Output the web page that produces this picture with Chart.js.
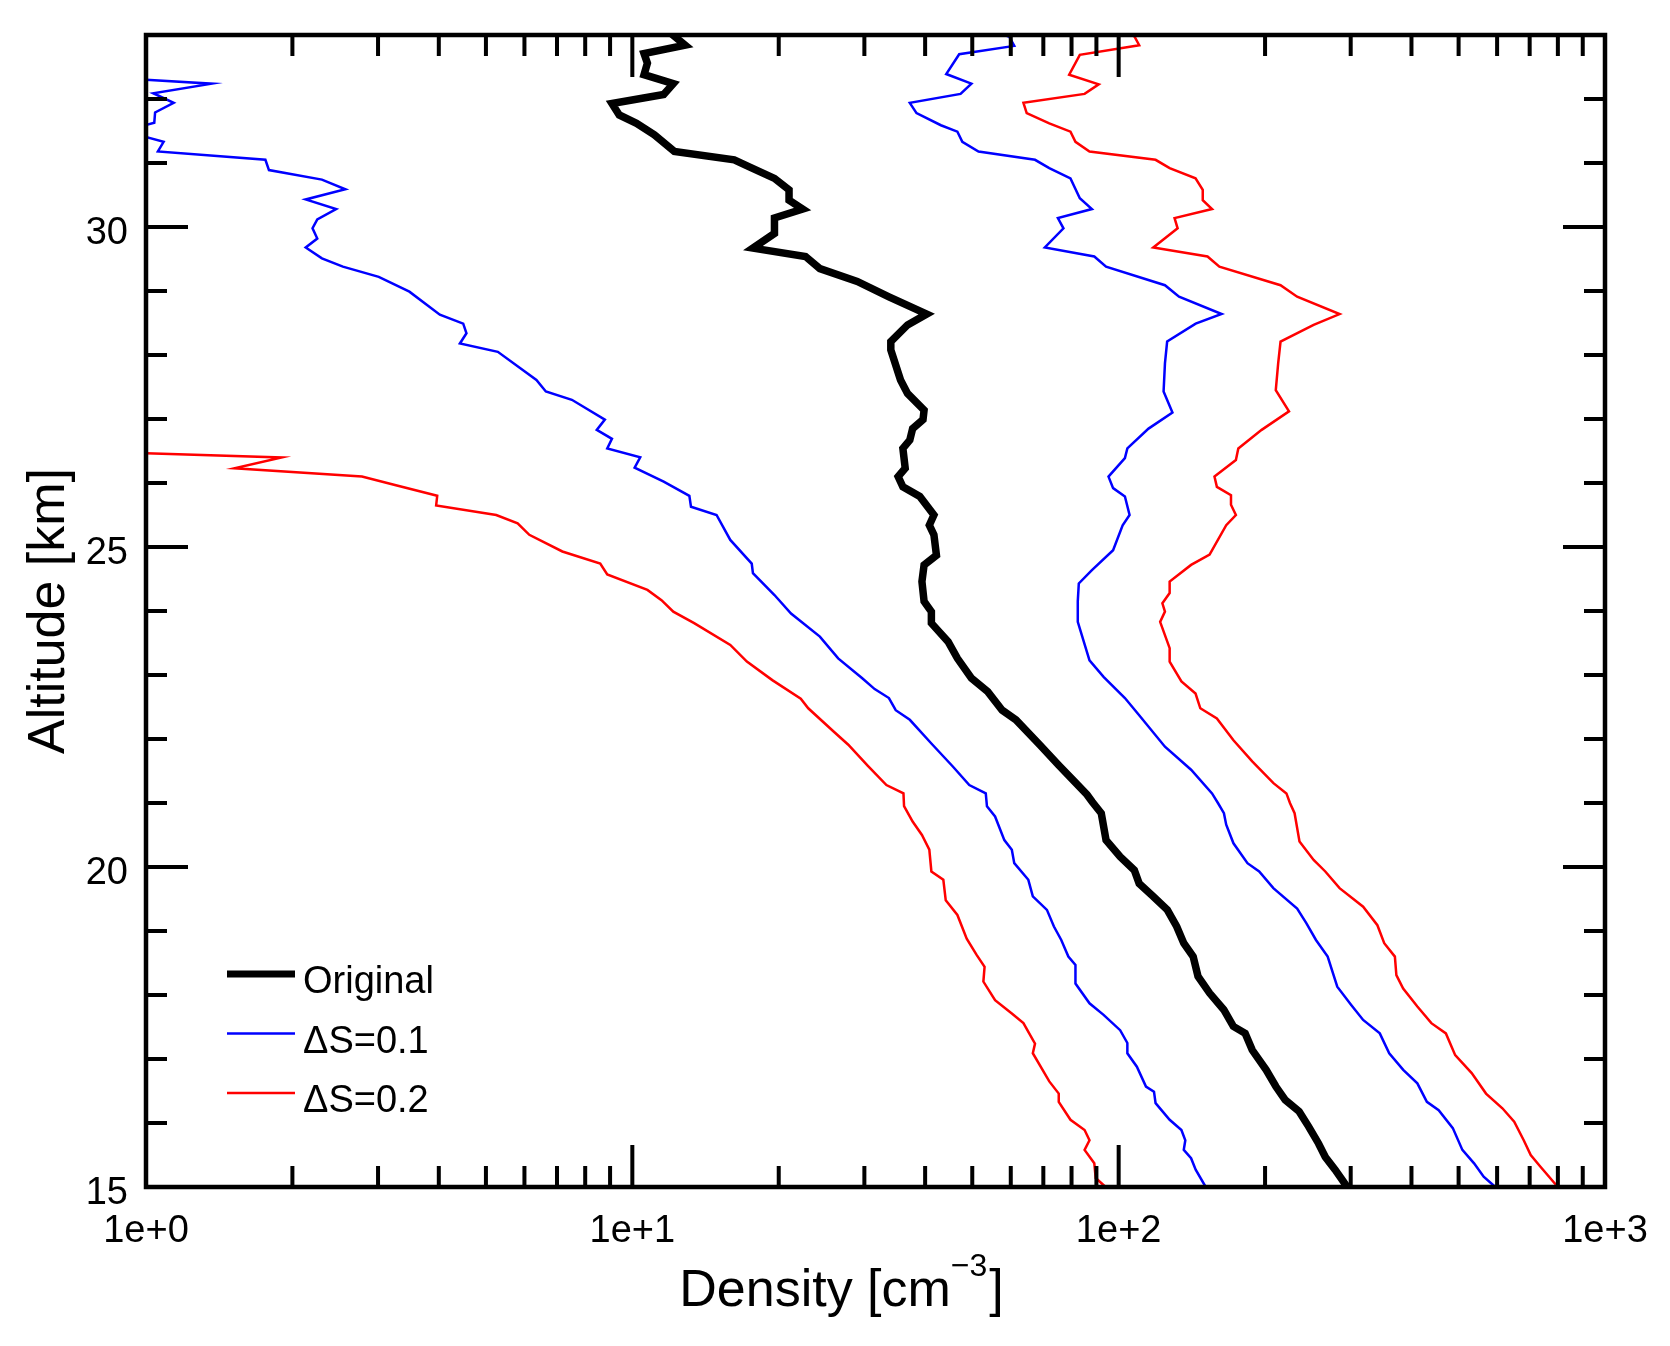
<!DOCTYPE html>
<html>
<head>
<meta charset="utf-8">
<script src="https://cdn.jsdelivr.net/npm/chart.js@4.4.0/dist/chart.umd.min.js"></script>
<style>
  body { margin: 0; background: #fff; }
  #wrap { width: 1670px; height: 1346px; }
</style>
</head>
<body>
<div id="wrap"><canvas id="grafico" width="1670" height="1346"></canvas></div>
<script>
// altitude [km] / density [cm^-3]
const origAlt = [33.05, 32.84, 32.71, 32.56, 32.38, 32.24, 32.07, 31.93, 31.75, 31.62, 31.44, 31.18, 31.05, 30.94, 30.76, 30.58, 30.42, 30.28, 30.14, 29.90, 29.67, 29.54, 29.35, 29.15, 28.91, 28.64, 28.47, 28.21, 28.08, 27.61, 27.40, 27.14, 26.99, 26.85, 26.67, 26.54, 26.23, 26.10, 25.94, 25.79, 25.50, 25.34, 25.19, 24.87, 24.72, 24.46, 24.15, 23.99, 23.81, 23.52, 23.26, 22.95, 22.74, 22.45, 22.30, 21.91, 21.59, 21.36, 21.13, 21.02, 20.84, 20.42, 20.16, 19.95, 19.74, 19.54, 19.33, 19.07, 18.81, 18.60, 18.29, 18.03, 17.77, 17.51, 17.40, 17.14, 16.83, 16.57, 16.36, 16.18, 15.94, 15.68, 15.47, 15.27, 15.00];
const origDen = [11.9, 12.84, 10.57, 10.74, 10.57, 12.14, 11.6, 9.08, 9.4, 10.2, 11.1, 12.2, 16.2, 17.4, 19.6, 21.0, 21.0, 22.4, 19.6, 19.6, 17.7, 22.7, 24.3, 29.0, 33.7, 40.3, 36.8, 34.0, 34.0, 35.6, 36.8, 39.8, 39.6, 37.7, 37.2, 36.0, 36.4, 35.2, 36.0, 39.0, 41.7, 40.8, 41.7, 42.2, 39.8, 39.4, 39.8, 41.2, 41.2, 44.6, 46.6, 49.8, 53.8, 57.6, 61.5, 68.8, 75.3, 80.5, 86.1, 88.2, 92.1, 94.2, 100.7, 107.7, 110.2, 117.8, 125.9, 131.6, 136.1, 142.3, 145.6, 153.8, 164.5, 172.1, 182.0, 188.2, 201, 210.5, 220, 235, 246, 257.6, 266, 278.6, 295];

const ds1LoAlt = [32.35, 32.24, 32.09, 31.94, 31.79, 31.63, 31.50, 31.33, 31.18, 31.05, 30.89, 30.74, 30.59, 30.43, 30.28, 30.12, 29.98, 29.82, 29.68, 29.51, 29.38, 29.22, 28.99, 28.63, 28.49, 28.34, 28.18, 28.05, 27.61, 27.43, 27.30, 26.99, 26.83, 26.69, 26.54, 26.40, 26.24, 26.02, 25.80, 25.63, 25.50, 25.11, 24.74, 24.59, 24.25, 23.96, 23.60, 23.26, 22.95, 22.78, 22.64, 22.45, 22.30, 21.93, 21.57, 21.28, 21.15, 20.95, 20.79, 20.42, 20.27, 20.06, 19.80, 19.54, 19.33, 19.07, 18.86, 18.60, 18.47, 18.18, 17.87, 17.69, 17.45, 17.25, 17.09, 16.88, 16.57, 16.49, 16.31, 16.05, 15.89, 15.73, 15.58, 15.45, 15.27, 15.00];
const ds1LoDen = [0.78, 1.365, 1.035, 1.14, 1.044, 1.04, 0.90, 1.087, 1.058, 1.76, 1.79, 2.30, 2.57, 2.13, 2.46, 2.25, 2.20, 2.25, 2.13, 2.30, 2.54, 3.01, 3.48, 4.02, 4.49, 4.56, 4.42, 5.29, 6.35, 6.64, 7.51, 8.78, 8.45, 9.08, 8.88, 10.38, 10.11, 11.6, 13.1, 13.2, 14.9, 15.9, 17.6, 17.7, 19.6, 21.2, 24.3, 26.5, 29.7, 31.5, 33.7, 34.8, 37.2, 41.2, 45.6, 49.3, 53.3, 53.6, 55.7, 58.2, 60.3, 61.0, 65.2, 66.6, 71.2, 73.6, 76.2, 78.8, 81.5, 81.5, 87.1, 93.1, 100.7, 104.2, 104.2, 109, 113.8, 118.2, 119.1, 127.3, 134.6, 137.1, 136.1, 140.9, 144, 151];

const ds1HiAlt = [33.05, 32.97, 32.83, 32.70, 32.39, 32.24, 32.08, 31.94, 31.78, 31.59, 31.49, 31.33, 31.18, 31.05, 30.92, 30.76, 30.45, 30.28, 30.14, 29.98, 29.68, 29.54, 29.38, 29.09, 28.91, 28.64, 28.49, 28.21, 27.87, 27.43, 27.10, 26.85, 26.54, 26.39, 26.10, 25.92, 25.79, 25.50, 25.34, 24.95, 24.64, 24.43, 24.15, 23.83, 23.23, 22.97, 22.64, 22.37, 21.88, 21.52, 21.15, 21.00, 20.84, 20.66, 20.37, 20.06, 19.93, 19.67, 19.35, 19.12, 18.86, 18.60, 18.13, 17.84, 17.61, 17.40, 17.09, 16.83, 16.62, 16.33, 16.20, 15.92, 15.58, 15.37, 15.16, 15.00];
const ds1HiDen = [56, 59.6, 61.0, 47, 44.2, 49.8, 47.3, 37.2, 38.4, 43.1, 46.6, 47.7, 51.5, 67.3, 72.0, 79.6, 83.2, 88.1, 75.0, 77.0, 70.5, 89.1, 94.2, 124.5, 133.1, 162.8, 144, 125.8, 124.5, 123.7, 129, 115.2, 104.2, 103, 95.3, 97.4, 103, 105.3, 101.9, 97.4, 88.1, 82.8, 82.4, 82.4, 87.1, 93.1, 103, 110.2, 124.5, 140.9, 155.6, 160, 164.6, 166.4, 172.2, 184, 194.5, 208, 232.8, 243.3, 254.5, 269, 281.5, 301, 318.2, 344.3, 360, 384.7, 411.3, 430.3, 455, 486.5, 509, 538, 563, 595];

const ds2LoAlt = [26.50, 26.40, 26.23, 26.10, 25.97, 25.80, 25.65, 25.50, 25.37, 25.19, 24.93, 24.74, 24.57, 24.33, 24.17, 23.99, 23.81, 23.47, 23.21, 22.92, 22.63, 22.48, 22.11, 21.91, 21.58, 21.28, 21.15, 20.95, 20.71, 20.50, 20.27, 19.93, 19.80, 19.48, 19.25, 18.88, 18.63, 18.44, 18.21, 17.92, 17.71, 17.56, 17.24, 17.09, 16.65, 16.46, 16.33, 16.05, 15.89, 15.73, 15.58, 15.37, 15.14, 15.00];
const ds2LoDen = [0.69, 1.90, 1.52, 2.78, 3.25, 3.97, 3.95, 5.25, 5.81, 6.14, 7.18, 8.59, 8.88, 10.74, 11.48, 12.14, 13.4, 15.9, 17.2, 19.4, 22.2, 23.0, 26.0, 27.8, 30.5, 33.3, 36.1, 36.2, 37.7, 39.4, 40.8, 41.2, 43.6, 44.1, 46.6, 48.7, 51.0, 53.0, 52.7, 55.7, 60.3, 63.7, 67.3, 66.6, 72.0, 75.3, 75.3, 79.6, 85.1, 87.1, 85.1, 89.1, 89.7, 94];

const ds2HiAlt = [33.05, 32.98, 32.84, 32.69, 32.38, 32.23, 32.08, 31.94, 31.78, 31.62, 31.49, 31.33, 31.18, 31.05, 30.92, 30.76, 30.58, 30.42, 30.28, 30.14, 29.98, 29.68, 29.54, 29.38, 29.09, 28.91, 28.64, 28.47, 28.21, 27.87, 27.45, 27.12, 26.83, 26.54, 26.36, 26.10, 25.94, 25.81, 25.66, 25.50, 25.34, 24.88, 24.72, 24.46, 24.28, 24.12, 23.99, 23.83, 23.42, 23.21, 22.90, 22.71, 22.48, 22.32, 21.98, 21.65, 21.31, 21.15, 21.00, 20.84, 20.40, 20.11, 19.93, 19.67, 19.38, 19.09, 18.81, 18.60, 18.31, 18.10, 17.82, 17.56, 17.40, 17.06, 16.78, 16.46, 16.23, 16.02, 15.73, 15.50, 15.32, 15.00];
const ds2HiDen = [103, 107.7, 110.2, 83.2, 79.1, 91.0, 85.1, 63.7, 64.7, 72.0, 79.6, 81.5, 87.1, 119.1, 127.3, 143.9, 148.9, 148.9, 155.6, 130.3, 132.2, 117.8, 152.3, 161.1, 215.2, 232.8, 284.6, 251.7, 215.2, 212.8, 210.4, 224, 196.8, 176.2, 174.2, 157.4, 159.2, 170.2, 170.2, 174.2, 166.4, 153.8, 140.9, 127.3, 127.3, 123.0, 124.5, 121.7, 127.3, 127.3, 134.6, 143.9, 147.2, 159.2, 172.2, 188.2, 208.1, 221.3, 225, 230, 235.4, 251.7, 266, 284.6, 318.2, 340.4, 351.6, 369.8, 372.4, 384.6, 411.3, 439.5, 470.8, 492, 532, 569.3, 615.2, 650.6, 680.6, 703.5, 736, 800];

const xTicks = [1, 10, 100, 1000];
const yTicks = [15, 20, 25, 30];
const legendLabels = ['Original', '\u0394S=0.1', '\u0394S=0.2'];
const legendColors = ['#000000', '#0000ff', '#ff0000'];

Chart.defaults.font.family = "'Liberation Sans', Arial, Helvetica, sans-serif";
Chart.defaults.color = '#000';

function pares(alt, den) {
    return alt.map((a, i) => ({ x: den[i], y: a }));
}

function linha(label, alt, den, cor, largura) {
    return {
        label: label,
        data: pares(alt, den),
        showLine: true,
        borderColor: cor,
        backgroundColor: cor,
        borderWidth: largura,
        pointRadius: 0,
        tension: 0
    };
}

// frame, inward ticks, legend and x-axis title (IDL style)
const moldura = {
    id: 'moldura',
    afterDraw(chart) {
        const { ctx, chartArea: a, scales: { x, y } } = chart;
        const maior = 42, menor = 21;
        ctx.save();
        ctx.strokeStyle = '#000';
        ctx.lineCap = 'butt';
        ctx.lineWidth = 4;
        ctx.beginPath();
        for (let d = 0; d < 3; d++) {
            for (let m = 1; m <= 9; m++) {
                const v = m * Math.pow(10, d);
                if (v <= 1) continue;
                const px = x.getPixelForValue(v);
                const len = m == 1 ? maior : menor;
                ctx.moveTo(px, a.bottom); ctx.lineTo(px, a.bottom - len);
                ctx.moveTo(px, a.top); ctx.lineTo(px, a.top + len);
            }
        }
        for (let k = 16; k <= 32; k++) {
            const py = y.getPixelForValue(k);
            const len = k % 5 == 0 ? maior : menor;
            ctx.moveTo(a.left, py); ctx.lineTo(a.left + len, py);
            ctx.moveTo(a.right, py); ctx.lineTo(a.right - len, py);
        }
        ctx.stroke();
        ctx.lineWidth = 4.5;
        ctx.strokeRect(a.left, a.top, a.right - a.left, a.bottom - a.top);

        // legend
        ctx.font = "38px 'Liberation Sans', Arial, sans-serif";
        ctx.fillStyle = '#000';
        ctx.textBaseline = 'alphabetic';
        ctx.textAlign = 'left';
        legendLabels.forEach((txt, i) => {
            const ly = a.top + 939 + i * 59.5;
            ctx.beginPath();
            ctx.strokeStyle = legendColors[i];
            ctx.lineWidth = i == 0 ? 7 : 2.5;
            ctx.moveTo(a.left + 81, ly);
            ctx.lineTo(a.left + 149, ly);
            ctx.stroke();
            ctx.fillText(txt, a.left + 157, ly + 19);
        });

        // x title with superscript
        const fBig = "52px 'Liberation Sans', Arial, sans-serif";
        const fSup = "32px 'Liberation Sans', Arial, sans-serif";
        ctx.font = fBig;
        const w1 = ctx.measureText('Density [cm').width;
        const w3 = ctx.measureText(']').width;
        ctx.font = fSup;
        const w2 = ctx.measureText('\u22123').width;
        const total = w1 + w2 + 2 + w3;
        let tx = (a.left + a.right) / 2 - 34 - total / 2;
        const base = a.bottom + 119;
        ctx.font = fBig;
        ctx.fillText('Density [cm', tx, base);
        tx += w1;
        ctx.font = fSup;
        ctx.fillText('\u22123', tx, base - 30);
        tx += w2 + 2;
        ctx.font = fBig;
        ctx.fillText(']', tx, base);
        ctx.restore();
    }
};

const ctx = document.getElementById('grafico');
const grafico = new Chart(ctx, {
    type: 'scatter',
    data: {
        datasets: [
            linha('Original', origAlt, origDen, '#000000', 7.5),
            linha('\u0394S=0.1', ds1LoAlt, ds1LoDen, '#0000ff', 2.5),
            linha('\u0394S=0.1', ds1HiAlt, ds1HiDen, '#0000ff', 2.5),
            linha('\u0394S=0.2', ds2LoAlt, ds2LoDen, '#ff0000', 2.5),
            linha('\u0394S=0.2', ds2HiAlt, ds2HiDen, '#ff0000', 2.5)
        ]
    },
    options: {
        responsive: false,
        animation: false,
        devicePixelRatio: 1,
        layout: { padding: { left: 0, right: 65, top: 35, bottom: 0 } },
        plugins: {
            legend: { display: false },
            tooltip: { enabled: false }
        },
        scales: {
            x: {
                type: 'logarithmic',
                position: 'bottom',
                min: 1,
                max: 1000,
                grid: { display: false, drawTicks: false },
                border: { display: false },
                afterBuildTicks: s => { s.ticks = xTicks.map(v => ({ value: v })); },
                afterFit: s => { s.height = 159; },
                ticks: {
                    color: '#000',
                    font: { size: 38 },
                    padding: 22,
                    maxRotation: 0,
                    autoSkip: false,
                    callback: v => '1e+' + Math.round(Math.log10(v))
                }
            },
            y: {
                type: 'linear',
                position: 'left',
                min: 15,
                max: 33,
                grid: { display: false, drawTicks: false },
                border: { display: false },
                afterBuildTicks: s => { s.ticks = yTicks.map(v => ({ value: v })); },
                afterFit: s => { s.width = 146; s.paddingTop = 0; s.paddingBottom = 0; },
                ticks: {
                    color: '#000',
                    font: { size: 38 },
                    padding: 18,
                    labelOffset: 7,
                    autoSkip: false
                },
                title: {
                    display: true,
                    text: 'Altitude [km]',
                    color: '#000',
                    font: { size: 52 },
                    padding: { top: 18, bottom: 0 }
                }
            }
        }
    },
    plugins: [moldura]
});
</script>
</body>
</html>
